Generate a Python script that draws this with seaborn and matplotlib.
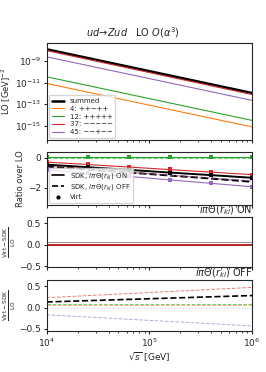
import numpy as np
import pandas as pd
import matplotlib
matplotlib.use("Agg")
import matplotlib.pyplot as plt
from matplotlib.lines import Line2D
import seaborn as sns

# sqrt(s) grid [GeV]
sqrt_s = [1e4, 2.51e4, 6.31e4, 1.585e5, 3.98e5, 1e6]

# LO cross sections [GeV^-2] (straight lines in log-log)
lo_summed = [1.25e-8, 1.1e-12]
lo_4 = [8.5e-12, 8.0e-16]
lo_12 = [3.5e-11, 3.2e-15]
lo_37 = [9.5e-9, 8.0e-13]
lo_45 = [2.5e-9, 2.3e-13]
lo_x = [1e4, 1e6]
lo_lines = {
    "summed": lo_summed,
    "4: ++\u2212++": lo_4,
    "12: +++++": lo_12,
    "37: \u2212\u2212\u2212\u2212\u2212": lo_37,
    "45: \u2212\u2212+\u2212\u2212": lo_45,
}

# ratio over LO: SDK ON (solid), SDK OFF (dashed), Virt (markers)
sdk_on = {
    "summed": [-0.45, -0.62, -0.80, -0.98, -1.15, -1.33],
    "12": [0.07, 0.07, 0.07, 0.07, 0.07, 0.07],
    "37": [-0.28, -0.44, -0.61, -0.78, -0.95, -1.12],
    "45": [-0.80, -1.02, -1.24, -1.47, -1.70, -1.93],
}
sdk_off = {
    "summed": [-0.58, -0.78, -0.98, -1.18, -1.38, -1.60],
    "12": [0.02, 0.02, 0.02, 0.02, 0.02, 0.02],
    "37": [-0.50, -0.72, -0.94, -1.16, -1.38, -1.58],
    "45": [-0.63, -0.80, -0.98, -1.16, -1.34, -1.52],
}
virt = {
    "summed": [-0.45, -0.62, -0.80, -0.98, -1.15, -1.33],
    "12": [0.09, 0.09, 0.09, 0.09, 0.09, 0.09],
    "37": [-0.27, -0.43, -0.60, -0.77, -0.94, -1.11],
    "45": [-0.80, -1.02, -1.24, -1.47, -1.70, -1.93],
}

# (Virt - SDK)/LO
diff_on = {
    "4": [0.07, 0.07], "12": [0.075, 0.075], "45": [0.065, 0.065],
    "summed": [0.0, 0.0], "37": [-0.015, -0.015],
}
diff_off = {
    "0": [0.0, 0.0],
    "4": [0.06, 0.06], "12": [0.075, 0.075],
    "37": [0.23, 0.47], "summed": [0.13, 0.28], "45": [-0.17, -0.43],
}

colors = {"summed": "black", "4": "C1", "12": "C2", "37": "C3", "45": "C4", "0": "lightgrey"}

sns.set_style("ticks")
plt.rcParams.update({"font.size": 6.5, "mathtext.fontset": "dejavusans"})

fig = plt.figure(figsize=(2.66, 3.72), dpi=100)
L, W = 0.1755, 0.772
ax1 = fig.add_axes([L, 0.624, W, 0.261])
ax2 = fig.add_axes([L, 0.449, W, 0.1425], sharex=ax1)
ax3 = fig.add_axes([L, 0.282, W, 0.134], sharex=ax1)
ax4 = fig.add_axes([L, 0.110, W, 0.137], sharex=ax1)

fig.text(0.5, 1 - 33 / 372, r"$ud\!\to\!Zud$   LO $O(\alpha^3)$", ha="center", va="center", fontsize=7)

# panel 1
for name, ys in lo_lines.items():
    key = name.split(":")[0]
    sns.lineplot(x=lo_x, y=ys, ax=ax1, color=colors[key], lw=1.8 if key == "summed" else 0.8, label=name)
ax1.set_xscale("log")
ax1.set_yscale("log")
ax1.set_ylim(10**-16.3, 10**-7.3)
ax1.set_ylabel(r"LO [GeV]$^{-2}$", labelpad=1, fontsize=6)
ax1.legend(loc="lower left", fontsize=5, handlelength=1.8, borderaxespad=0.3, labelspacing=0.25)

# panel 2
for key in ["12", "37", "summed", "45"]:
    lw = 1.4 if key == "summed" else 0.8
    sns.lineplot(x=sqrt_s, y=sdk_on[key], ax=ax2, color=colors[key], lw=lw)
    sns.lineplot(x=sqrt_s, y=sdk_off[key], ax=ax2, color=colors[key], lw=lw, ls="--",
                 alpha=1 if key == "summed" else 0.6)
    sns.scatterplot(x=sqrt_s, y=virt[key], ax=ax2, color=colors[key], s=8, marker="s", edgecolor="none")
ax2.set_ylim(-3.15, 0.4)
ax2.set_yticks([0, -2])
ax2.set_ylabel("Ratio over LO", labelpad=2, fontsize=6)
handles = [
    Line2D([], [], color="black", lw=1.2),
    Line2D([], [], color="black", lw=1.2, ls="--"),
    Line2D([], [], color="black", lw=0, marker=".", ms=4),
]
ax2.legend(handles, [r"SDK, $i\pi\Theta(r_{kl})$ ON", r"SDK, $i\pi\Theta(r_{kl})$ OFF", "Virt"],
           loc="lower left", fontsize=5, handlelength=1.8, borderaxespad=0.3, labelspacing=0.25)

# panel 3
for key, ys in diff_on.items():
    lw = 1.2 if key in ("summed", "37") else 0.6
    sns.lineplot(x=lo_x, y=ys, ax=ax3, color=colors[key], lw=lw, alpha=1 if lw > 1 else 0.5)
ax3.set_ylim(-0.52, 0.64)
ax3.set_title(r"$i\pi\Theta(r_{kl})$ ON", loc="right", fontsize=7, pad=1)
ax3.set_ylabel(r"$\frac{\rm Virt-SDK}{\rm LO}$", fontsize=6, labelpad=1)

# panel 4
for key, ys in diff_off.items():
    if key == "0":
        sns.lineplot(x=lo_x, y=ys, ax=ax4, color=colors[key], lw=0.8, ls=":")
        continue
    lw = 1.2 if key == "summed" else 0.7
    sns.lineplot(x=lo_x, y=ys, ax=ax4, color=colors[key], lw=lw, ls="--", alpha=1 if key == "summed" else 0.6)
ax4.set_ylim(-0.55, 0.64)
ax4.set_title(r"$i\pi\Theta(r_{kl})$ OFF", loc="right", fontsize=7, pad=1)
ax4.set_ylabel(r"$\frac{\rm Virt-SDK}{\rm LO}$", fontsize=6, labelpad=1)
ax4.set_xlabel(r"$\sqrt{s}$ [GeV]", labelpad=1)

ax1.set_xlim(1e4, 1e6)
for ax in (ax1, ax2, ax3):
    ax.tick_params(labelbottom=False)
for ax in (ax1, ax2, ax3, ax4):
    ax.tick_params(labelsize=6.5, length=2.5, pad=1.5)
    ax.tick_params(which="minor", length=1.5)

fig.savefig("out.png", dpi=100)
